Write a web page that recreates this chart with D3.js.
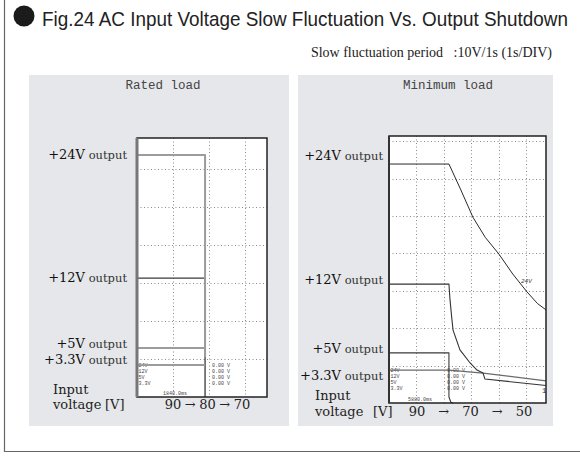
<!doctype html>
<html>
<head>
<meta charset="utf-8">
<script src="https://d3js.org/d3.v7.min.js"></script>
<style>
  body { margin: 0; background: #fff; }
  text { font-kerning: normal; }
</style>
</head>
<body>
<svg width="580" height="461"></svg>
<script>
// scope traces, [time in divisions (1s/DIV), level in divisions]
var ratedTrace24 = [[0, 6.37], [1.89, 6.37], [1.89, 1.05]];
var ratedTrace12 = [[0, 3.13], [1.89, 3.13], [1.89, 0]];
var ratedTrace5 = [[0, 1.29], [1.89, 1.29]];
var ratedTrace33 = [[0, 0.84], [1.89, 0.84]];

var minTrace24 = [[0, 6.39], [2.18, 6.39], [2.6, 5.72], [3.05, 4.97], [3.5, 4.43], [4.0, 3.98],
                  [4.5, 3.45], [5.02, 2.97], [5.4, 2.66], [5.71, 2.49]];
var minTrace12 = [[0, 3.18], [2.18, 3.18], [2.22, 2.75], [2.29, 2.22], [2.33, 1.95], [2.58, 1.42],
                  [2.95, 1.07], [3.2, 0.88], [3.42, 0.8], [3.49, 0.64], [5.71, 0.47]];
var minTrace5 = [[0, 1.34], [2.18, 1.34], [2.18, 0.16], [2.25, 0.02], [2.33, 0]];
var minTrace33 = [[0, 0.88], [2.18, 0.88], [3.42, 0.8], [5.71, 0.59]];

var outputNames = ["+24V", "+12V", "+5V", "+3.3V"];
var channelNames = ["24V", "12V", "5V", "3.3V"];
var channelReadings = ["0.00 V", "0.00 V", "0.00 V", "0.00 V"];
var ratedSteps = ["90", "80", "70"];
var minSteps = ["90", "70", "50"];
var ratedTime = "1840.0ms";
var minTime = "5880.0ms";

var serif = "'DejaVu Serif', 'Liberation Serif', serif";
var mono = "'Liberation Mono', 'DejaVu Sans Mono', monospace";

var svg = d3.select("svg");

// outer frame (left + bottom only)
svg.append("path")
  .attr("d", "M4.5,0 V451.5 H580")
  .attr("fill", "none")
  .attr("stroke", "#666")
  .attr("stroke-width", 1.2);

// title, squeezed to the narrow width of the original
svg.append("circle")
  .attr("cx", 24).attr("cy", 16).attr("r", 10.5)
  .attr("fill", "#1b1b1b");
var title = svg.append("text")
  .attr("x", 0).attr("y", 0)
  .style("font-family", "'Liberation Sans Narrow', 'Arial Narrow', 'Liberation Sans', sans-serif")
  .style("font-size", "21px")
  .style("fill", "#222")
  .text("Fig.24 AC Input Voltage Slow Fluctuation Vs. Output Shutdown");
var tw = title.node().getComputedTextLength();
title.attr("transform", "translate(42,26) scale(" + (526 / tw) + ",1)");

svg.append("text")
  .attr("x", 552).attr("y", 57)
  .attr("text-anchor", "end")
  .style("font-family", "'Liberation Serif', serif")
  .style("font-size", "14px")
  .style("fill", "#222")
  .attr("xml:space", "preserve")
  .text("Slow fluctuation period   :10V/1s (1s/DIV)");

var panels = [
  {
    title: "Rated load", titleX: 163,
    x0: 29, x1: 289,
    box: {l: 137, r: 267, t: 138, b: 397}, xDivs: 3.61, yDivs: 6.82,
    traces: [
      {data: ratedTrace12, color: "#3a3a3a", width: 1.3},
      {data: ratedTrace24, color: "#9c9c9c", width: 2},
      {data: ratedTrace5, color: "#9c9c9c", width: 2},
      {data: ratedTrace33, color: "#9c9c9c", width: 2}
    ],
    edge: {color: "#777", width: 3},
    labelRight: 127, labelY: [159, 281.5, 348, 364],
    inputX: 53, inputY: 394, voltY: 409, vX: 105,
    steps: ratedSteps, stepRange: [173, 242],
    chanY: [367, 373, 379, 385], readX: 212, time: ratedTime, timeX: 175, timeY: 395,
    curveTag: null
  },
  {
    title: "Minimum load", titleX: 448,
    x0: 298, x1: 553,
    box: {l: 389, r: 546, t: 136, b: 403}, xDivs: 5.71, yDivs: 7.14,
    traces: [
      {data: minTrace33, color: "#6a6a6a", width: 1.3},
      {data: minTrace24, color: "#2a2a2a", width: 1},
      {data: minTrace12, color: "#333", width: 1.1},
      {data: minTrace5, color: "#3a3a3a", width: 1.1}
    ],
    edge: {color: "#333", width: 2},
    labelRight: 383, labelY: [160, 284, 353, 380],
    inputX: 315, inputY: 400, voltY: 416, vX: 373,
    steps: minSteps, stepRange: [417, 524],
    chanY: [372, 378, 384, 390], readX: 447, time: minTime, timeX: 420, timeY: 401,
    curveTag: {text: "24V", x: 4.8, y: 3.2}
  }
];

panels.forEach(function(p) {
  var g = svg.append("g");
  var b = p.box;

  g.append("rect")
    .attr("x", p.x0).attr("y", 75)
    .attr("width", p.x1 - p.x0).attr("height", 351)
    .attr("fill", "#e6e7ea");

  g.append("text")
    .attr("x", p.titleX).attr("y", 89)
    .attr("text-anchor", "middle")
    .style("font-family", mono)
    .style("font-size", "12.5px")
    .style("fill", "#444")
    .text(p.title);

  var x = d3.scaleLinear().domain([0, p.xDivs]).range([b.l, b.r]);
  var y = d3.scaleLinear().domain([0, p.yDivs]).range([b.b, b.t]);

  g.append("rect")
    .attr("x", b.l).attr("y", b.t)
    .attr("width", b.r - b.l).attr("height", b.b - b.t)
    .attr("fill", "#fff");

  // dotted graticule
  g.selectAll(".vg").data(d3.range(1, Math.ceil(p.xDivs))).enter()
    .append("line")
      .attr("x1", function(d) { return Math.round(x(d)) + 0.5; })
      .attr("x2", function(d) { return Math.round(x(d)) + 0.5; })
      .attr("y1", b.t).attr("y2", b.b)
      .attr("stroke", "#8a8a8a")
      .attr("stroke-dasharray", "1,2.5");
  g.selectAll(".hg").data(d3.range(1, Math.ceil(p.yDivs))).enter()
    .append("line")
      .attr("y1", function(d) { return Math.round(y(d)) + 0.5; })
      .attr("y2", function(d) { return Math.round(y(d)) + 0.5; })
      .attr("x1", b.l).attr("x2", b.r)
      .attr("stroke", "#8a8a8a")
      .attr("stroke-dasharray", "1,2.5");

  // scope readout text
  var small = g.append("g")
    .style("font-family", mono)
    .style("font-size", "5px")
    .style("fill", "#444");
  small.selectAll(".ch").data(channelNames).enter()
    .append("text")
      .attr("x", b.l + 1.5)
      .attr("y", function(d, i) { return p.chanY[i]; })
      .text(function(d) { return d; });
  small.selectAll(".rd").data(channelReadings).enter()
    .append("text")
      .attr("x", p.readX)
      .attr("y", function(d, i) { return p.chanY[i]; })
      .text(function(d) { return d; });
  small.append("text")
    .attr("x", p.timeX).attr("y", p.timeY)
    .attr("text-anchor", "middle")
    .text(p.time);

  var line = d3.line()
    .x(function(d) { return x(d[0]); })
    .y(function(d) { return y(d[1]); });

  p.traces.forEach(function(t) {
    g.append("path")
      .attr("d", line(t.data))
      .attr("fill", "none")
      .attr("stroke", t.color)
      .attr("stroke-width", t.width)
      .attr("stroke-linejoin", "round");
  });

  if (p.curveTag) {
    g.append("text")
      .attr("x", x(p.curveTag.x)).attr("y", y(p.curveTag.y))
      .style("font-family", mono)
      .style("font-size", "6px")
      .style("font-style", "italic")
      .style("fill", "#333")
      .text(p.curveTag.text);
    g.append("text")
      .attr("x", b.r - 4).attr("y", 393)
      .style("font-family", mono)
      .style("font-size", "7px")
      .style("fill", "#333")
      .text("1");
  }

  g.append("rect")
    .attr("x", b.l).attr("y", b.t)
    .attr("width", b.r - b.l).attr("height", b.b - b.t)
    .attr("fill", "none")
    .attr("stroke", "#222")
    .attr("stroke-width", 1.5);
  g.append("line")
    .attr("x1", b.l).attr("x2", b.l)
    .attr("y1", b.t).attr("y2", b.b)
    .attr("stroke", p.edge.color)
    .attr("stroke-width", p.edge.width);

  // output labels
  var lab = g.selectAll(".lab").data(outputNames).enter()
    .append("text")
      .attr("x", p.labelRight)
      .attr("y", function(d, i) { return p.labelY[i]; })
      .attr("text-anchor", "end")
      .style("font-family", serif);
  lab.append("tspan")
    .style("font-size", "13px")
    .style("fill", "#111")
    .text(function(d) { return d; });
  lab.append("tspan")
    .style("font-size", "11.5px")
    .style("fill", "#333")
    .text(" output");

  var txt = g.append("g")
    .style("font-family", serif)
    .style("font-size", "13px")
    .style("fill", "#222");
  txt.append("text").attr("x", p.inputX).attr("y", p.inputY).text("Input");
  txt.append("text").attr("x", p.inputX).attr("y", p.voltY).text("voltage");
  txt.append("text").attr("x", p.vX).attr("y", p.voltY).text("[V]");

  var tokens = [];
  p.steps.forEach(function(s, i) {
    if (i > 0) tokens.push("\u2192" + i);
    tokens.push(s + "#" + i);
  });
  var sx = d3.scalePoint().domain(tokens).range(p.stepRange);
  txt.selectAll(".st").data(tokens).enter()
    .append("text")
      .attr("x", function(d) { return sx(d); })
      .attr("y", p.voltY)
      .attr("text-anchor", "middle")
      .text(function(d) { return d.charAt(0) === "\u2192" ? "\u2192" : d.split("#")[0]; });
});
</script>
</body>
</html>
